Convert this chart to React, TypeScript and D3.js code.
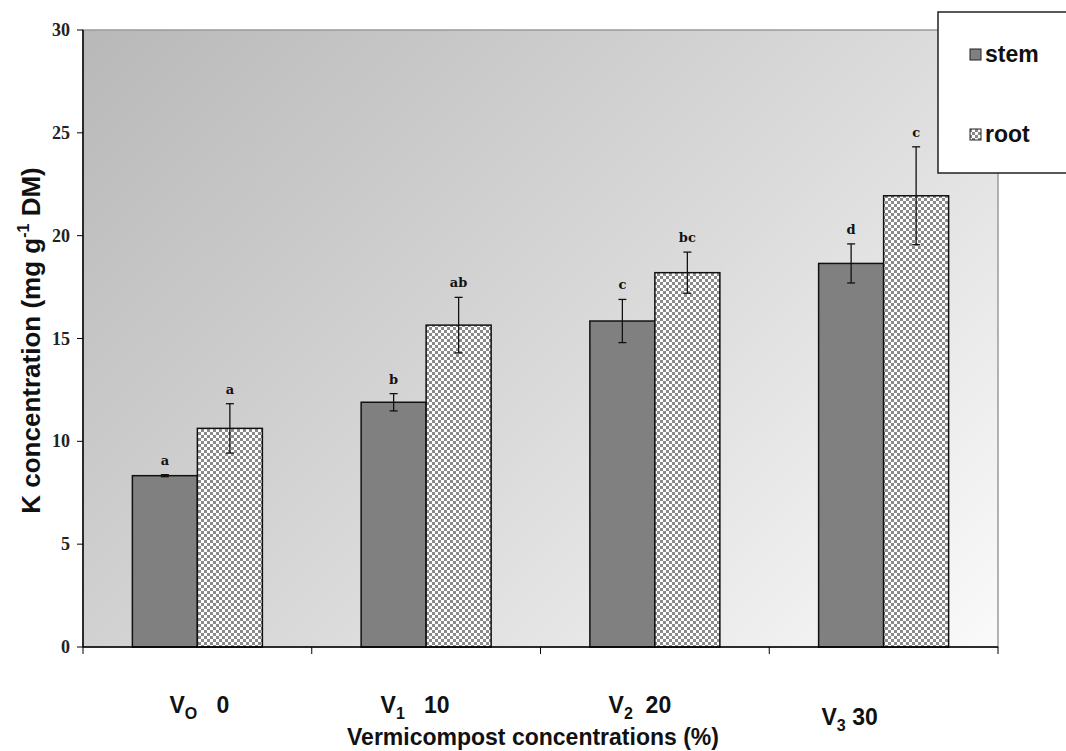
import React from "react";
import * as d3 from "d3";

const categories = ["V0", "V1", "V2", "V3"];
const catMain = ["V", "V", "V", "V"];
const catSub = ["O", "1", "2", "3"];
const catNum = ["0", "10", "20", "30"];
const seriesNames = ["stem", "root"];
const stemValues = [8.33, 11.9, 15.85, 18.65];
const stemErr = [0.05, 0.42, 1.05, 0.95];
const rootValues = [10.63, 15.65, 18.2, 21.94];
const rootErr = [1.2, 1.35, 1.0, 2.38];
const stemLetters = ["a", "b", "c", "d"];
const rootLetters = ["a", "ab", "bc", "c"];
const yTicks = [0, 5, 10, 15, 20, 25, 30];

const W = 1066, H = 751;
const left = 83, right = 998, top = 30, bottom = 647;
const labelShift = [2, -11, -15, -34];
const labelY = [713, 713, 713, 725];
const labelGap = ["\u00a0\u00a0\u00a0", "\u00a0\u00a0\u00a0", "\u00a0\u00a0", "\u00a0"];

export default function App() {
  const x = d3.scaleBand<string>().domain(categories).range([left, right]).paddingInner(0).paddingOuter(0);
  const y = d3.scaleLinear().domain([0, 30]).range([bottom, top]);
  const bw = 65;
  const series = [
    { name: "stem", values: stemValues, err: stemErr, letters: stemLetters, fill: "#808080" },
    { name: "root", values: rootValues, err: rootErr, letters: rootLetters, fill: "url(#checker)" },
  ];
  const boundaries = d3.range(categories.length + 1).map((i) => left + i * x.bandwidth());
  return (
    <svg width={W} height={H} style={{ position: "absolute", left: 0, top: 0 }}>
      <defs>
        <linearGradient id="bg" gradientUnits="userSpaceOnUse" x1={left} y1={top} x2={right} y2={bottom + 300}>
          <stop offset="0" stopColor="#b8b8b8" />
          <stop offset="0.45" stopColor="#dadada" />
          <stop offset="0.85" stopColor="#fbfbfb" />
          <stop offset="1" stopColor="#ffffff" />
        </linearGradient>
        <pattern id="checker" width="6" height="6" patternUnits="userSpaceOnUse">
          <rect width="6" height="6" fill="#ffffff" />
          <rect width="3" height="3" fill="#8a8a8a" />
          <rect x="3" y="3" width="3" height="3" fill="#8a8a8a" />
        </pattern>
      </defs>
      <rect width={W} height={H} fill="#ffffff" />
      <rect x={left} y={top} width={right - left} height={bottom - top} fill="url(#bg)" stroke="#9a9a9a" strokeWidth={1.5} />
      {categories.map((c, i) => {
        const cx = (x(c) as number) + x.bandwidth() / 2;
        return series.map((s, j) => {
          const bx = cx - bw + j * bw;
          const v = s.values[i];
          const e = s.err[i];
          const ex = bx + bw / 2;
          return (
            <g key={c + s.name}>
              <rect x={bx} y={y(v)} width={bw} height={y(0) - y(v)} fill={s.fill} stroke="#111" strokeWidth={1.5} />
              <line x1={ex} x2={ex} y1={y(v + e)} y2={y(v - e)} stroke="#111" strokeWidth={1.3} />
              <line x1={ex - 4} x2={ex + 4} y1={y(v + e)} y2={y(v + e)} stroke="#111" strokeWidth={1.3} />
              <line x1={ex - 4} x2={ex + 4} y1={y(v - e)} y2={y(v - e)} stroke="#111" strokeWidth={1.3} />
              <text x={ex} y={y(v + e) - 10} textAnchor="middle" fontFamily="'DejaVu Serif', serif" fontWeight="bold" fontSize={13} fill="#111">
                {s.letters[i]}
              </text>
            </g>
          );
        });
      })}
      <line x1={left} x2={left} y1={top} y2={bottom} stroke="#000" strokeWidth={1.5} />
      {yTicks.map((t) => (
        <g key={t}>
          <line x1={left - 6} x2={left} y1={y(t)} y2={y(t)} stroke="#000" strokeWidth={1} />
          <text x={left - 13} y={y(t) + 6} textAnchor="end" fontFamily="'Liberation Serif', 'Times New Roman', serif" fontWeight="bold" fontSize={18} fill="#222">
            {t}
          </text>
        </g>
      ))}
      <line x1={left} x2={right} y1={bottom} y2={bottom} stroke="#000" strokeWidth={1.5} />
      {boundaries.map((b, i) => (
        <line key={i} x1={b} x2={b} y1={bottom} y2={bottom + 7} stroke="#000" strokeWidth={1} />
      ))}
      {categories.map((c, i) => {
        const cx = (x(c) as number) + x.bandwidth() / 2 + labelShift[i];
        return (
          <text key={c} x={cx} y={labelY[i]} textAnchor="middle" fontFamily="'Liberation Sans', Arial, sans-serif" fontWeight="bold" fontSize={23} fill="#111">
            {catMain[i]}
            <tspan fontSize={16} dy={6}>{catSub[i]}</tspan>
            <tspan dy={-6}>{labelGap[i]}{catNum[i]}</tspan>
          </text>
        );
      })}
      <text x={533} y={745} textAnchor="middle" fontFamily="'Liberation Sans', Arial, sans-serif" fontWeight="bold" fontSize={23} fill="#111">
        Vermicompost concentrations (%)
      </text>
      <text transform={`translate(40, ${(top + bottom) / 2 + 2}) rotate(-90)`} textAnchor="middle" fontFamily="'Liberation Sans', Arial, sans-serif" fontWeight="bold" fontSize={26} fill="#111">
        K concentration (mg g
        <tspan fontSize={16} dy={-11}>-1</tspan>
        <tspan dy={11}> DM)</tspan>
      </text>
      <rect x={938} y={12} width={140} height={161} fill="#ffffff" stroke="#222" strokeWidth={1.5} />
      {seriesNames.map((n, i) => (
        <g key={n}>
          <rect x={970} y={49 + i * 80} width={11} height={11} fill={i === 0 ? "#808080" : "url(#checker)"} stroke="#222" strokeWidth={1} />
          <text x={985} y={62 + i * 80} fontFamily="'Liberation Sans', Arial, sans-serif" fontWeight="bold" fontSize={23} fill="#111">
            {n}
          </text>
        </g>
      ))}
    </svg>
  );
}
